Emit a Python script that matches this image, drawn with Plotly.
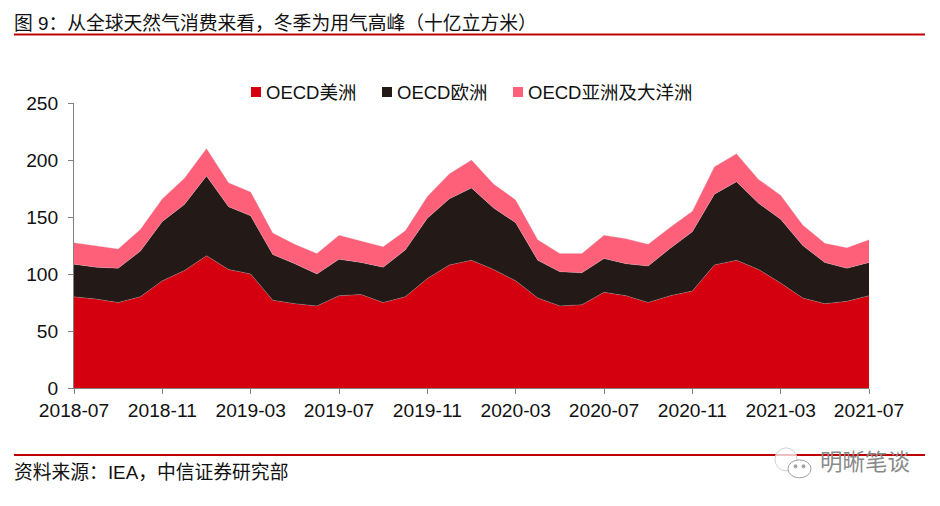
import plotly.graph_objects as go

months = ["2018-07","2018-08","2018-09","2018-10","2018-11","2018-12",
          "2019-01","2019-02","2019-03","2019-04","2019-05","2019-06",
          "2019-07","2019-08","2019-09","2019-10","2019-11","2019-12",
          "2020-01","2020-02","2020-03","2020-04","2020-05","2020-06",
          "2020-07","2020-08","2020-09","2020-10","2020-11","2020-12",
          "2021-01","2021-02","2021-03","2021-04","2021-05","2021-06","2021-07"]
americas = [80,78,75,80,94,103,116,104,100,77,74,72,81,82,75,80,96,108,
            112,104,94,79,72,73,84,81,75,81,85,108,112,104,92,79,74,76,81]
europe = [28.5,28,30,40,52,58,70,55,51,40,35,28,32,28,31,41,53,58,
          63.5,54,51,33,30,28,29.5,28,32,41.5,52,62,69,58,56,46,36,29,29]
asia = [19,19,17,19,20,23,24,21,21,19,17,18,21,19,18,17,19,22,
        24.5,21,20,18,16,17,20.5,22,19,18.5,18,24,24.5,21,21,18,17,18,20]
x_ticks = ["2018-07","2018-11","2019-03","2019-07","2019-11","2020-03",
           "2020-07","2020-11","2021-03","2021-07"]
y_ticks = [0,50,100,150,200,250]
names = ["OECD美洲","OECD欧洲","OECD亚洲及大洋洲"]
colors = ["#D5000F","#231916","#FF6079"]

title = "图 9：从全球天然气消费来看，冬季为用气高峰（十亿立方米）"
source = "资料来源：IEA，中信证券研究部"
watermark = "明晰笔谈"

FONT = "Liberation Sans, Noto Sans CJK SC, sans-serif"
W, H = 795, 285.5
L, T = 74, 102.5
px = lambda x: (x - L) / W
py = lambda y: 1 - (y - T) / H

legend_ids = ["legend", "legend2", "legend3"]
legend_x = [241, 372, 503]

fig = go.Figure()
for name, vals, col, lid in zip(names, [americas, europe, asia], colors, legend_ids):
    fig.add_trace(go.Scatter(x=months, y=vals, name=name, mode="lines",
                             stackgroup="one", fillcolor=col,
                             line=dict(width=0.5, color="rgba(200,200,200,0.5)"),
                             showlegend=False, hoverinfo="x+y+name"))
    fig.add_trace(go.Scatter(x=[months[0]], y=[None], name=name, mode="markers",
                             marker=dict(symbol="square", size=10, color=col),
                             legend=lid, showlegend=True))

legend_common = dict(orientation="h", xanchor="left", y=py(92), yanchor="middle",
                     font=dict(size=18.5), indentation=-15, itemclick=False,
                     bgcolor="rgba(0,0,0,0)")


def circle(x0, x1, y0, y1, color, fill=None, width=1):
    return dict(type="circle", xref="paper", yref="paper", x0=px(x0), x1=px(x1),
                y0=py(y1), y1=py(y0), line=dict(color=color, width=width),
                fillcolor=fill)


fig.update_layout(
    width=940, height=506, autosize=False,
    margin=dict(l=L, r=940 - L - W, t=T, b=506 - T - H),
    paper_bgcolor="white", plot_bgcolor="white",
    font=dict(family=FONT, size=18, color="#111111"),
    xaxis=dict(type="category", categoryorder="array", categoryarray=months,
               range=[0, 36], tickmode="array", tickvals=x_ticks, ticktext=x_ticks,
               ticks="outside", ticklen=5, tickwidth=1, tickcolor="#808080",
               showline=True, linecolor="#808080", linewidth=1, showgrid=False,
               zeroline=False, tickangle=0, tickfont=dict(size=19.2)),
    yaxis=dict(range=[0, 250], tickmode="array", tickvals=y_ticks,
               ticks="outside", ticklen=5, tickwidth=1, tickcolor="#808080",
               ticklabelstandoff=6,
               showline=True, linecolor="#808080", linewidth=1, showgrid=False,
               zeroline=False, tickfont=dict(size=19.2)),
    legend=dict(x=px(legend_x[0]), **legend_common),
    legend2=dict(x=px(legend_x[1]), **legend_common),
    legend3=dict(x=px(legend_x[2]), **legend_common),
    showlegend=True,
    shapes=[
        dict(type="line", xref="paper", yref="paper", x0=px(14), x1=px(925),
             y0=py(34), y1=py(34), line=dict(color="#C00000", width=2)),
        dict(type="line", xref="paper", yref="paper", x0=px(14), x1=px(925),
             y0=py(455), y1=py(455), line=dict(color="#C00000", width=2)),
        circle(775, 797, 448, 471, "#d0d0d0", "rgba(255,255,255,0.75)"),
        circle(788, 811, 460, 478, "#a0a0a0", "white"),
        circle(794, 797, 465, 468, "#a0a0a0", "#a0a0a0"),
        circle(802, 805, 465, 468, "#a0a0a0", "#a0a0a0"),
    ],
    annotations=[
        dict(text=title, xref="paper", yref="paper", x=px(12), xanchor="left",
             y=py(23), yanchor="middle", showarrow=False, font=dict(size=18.8)),
        dict(text=source, xref="paper", yref="paper", x=px(12), xanchor="left",
             y=py(472.5), yanchor="middle", showarrow=False, font=dict(size=18.8)),
        dict(text=watermark, xref="paper", yref="paper", x=px(818), xanchor="left",
             y=py(463), yanchor="middle", showarrow=False,
             font=dict(size=22.5, color="#8a8a8a")),
    ],
)
post = """document.body.style.margin='0';
document.querySelectorAll('.legendpoints').forEach(function(g){
  g.setAttribute('transform','translate(10,0)');
});"""
fig.write_html("out.html", config={"displayModeBar": False}, post_script=post)
